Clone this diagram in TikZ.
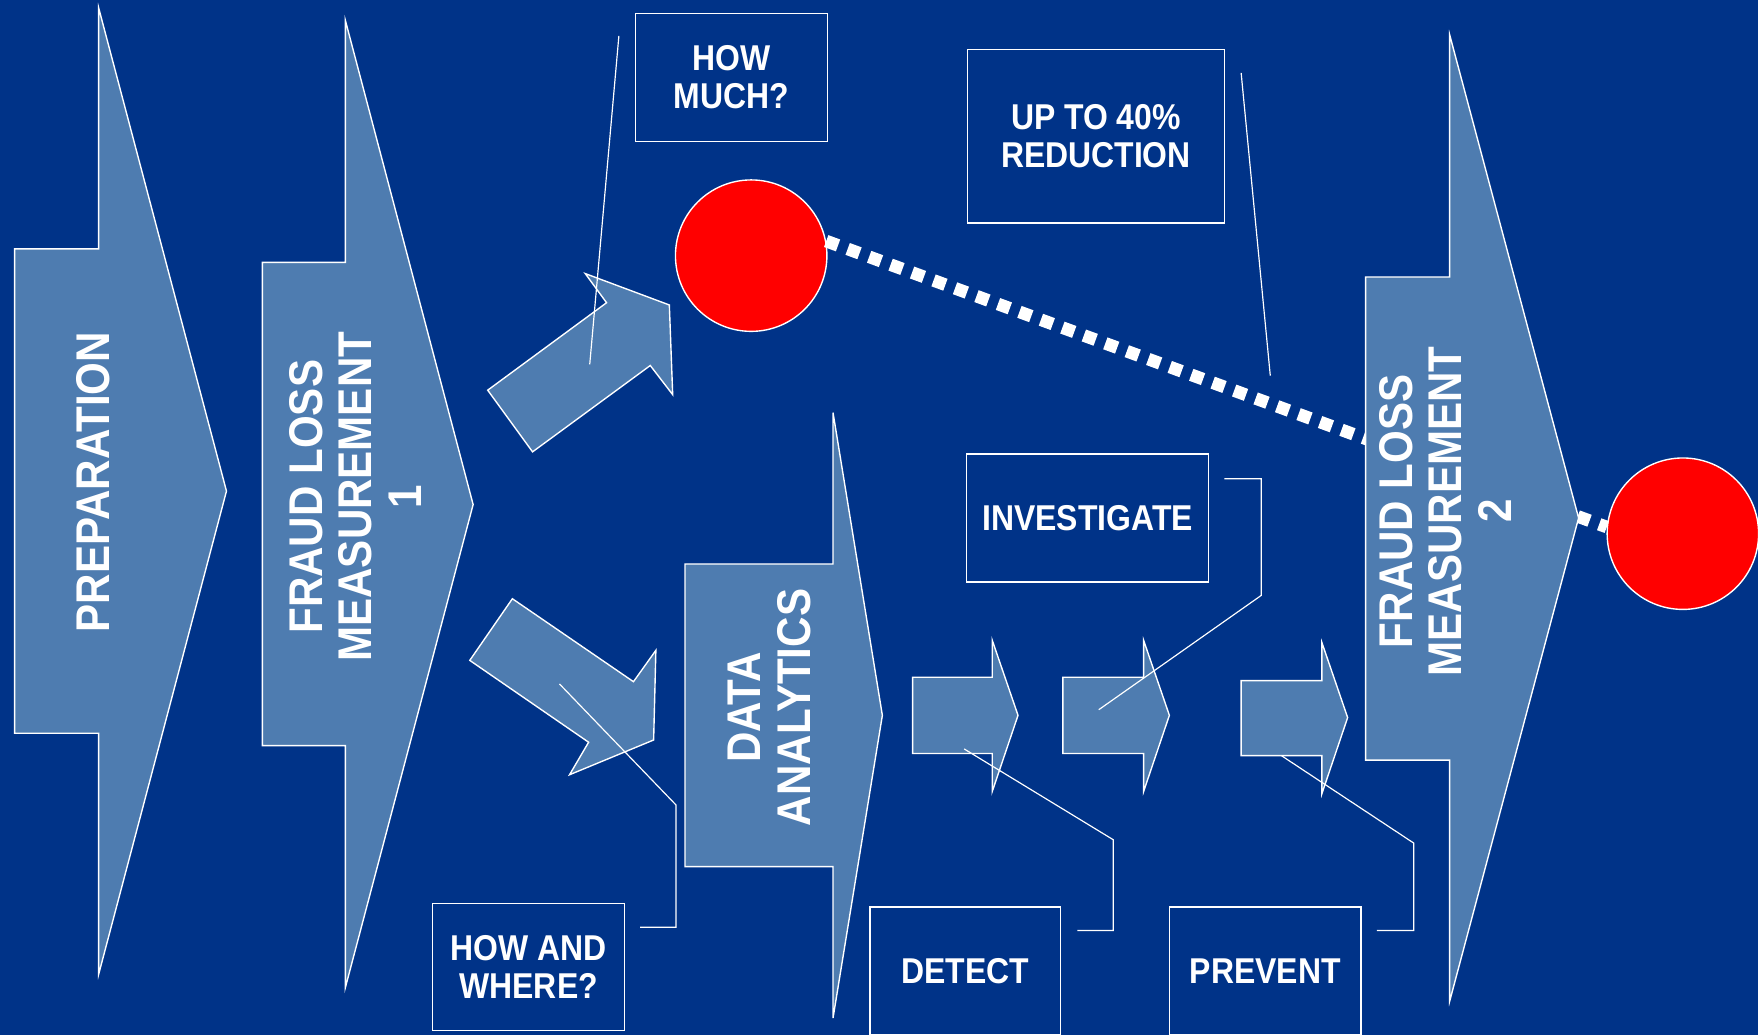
\documentclass[tikz,border=0pt]{standalone}
\usepackage{fontspec}
\setmainfont[FakeStretch=0.89]{Liberation Sans}
\usetikzlibrary{shapes,arrows,positioning,calc}
\usepackage{xcolor}
\definecolor{bgblue}{RGB}{0,51,136}
\definecolor{arrowblue}{RGB}{78,124,176}

\begin{document}
\begin{tikzpicture}[
    x=0.01cm, y=-0.01cm,
    bigarrow/.style={fill=arrowblue, draw=white, line width=0.35pt},
    biglabel/.style={text=white, rotate=90, align=center, font=\fontsize{12}{12.6}\selectfont\bfseries},
    box/.style={rectangle, draw=white, line width=0.35pt, fill=bgblue, text=white, align=center, inner sep=0pt, font=\fontsize{9.1}{9.7}\selectfont\bfseries},
    callout/.style={draw=white, line width=0.3pt},
    lossdot/.style={circle, fill=red, draw=white, line width=0.35pt, minimum size=1.35cm, inner sep=0pt},
    dotline/.style={draw=white, line width=3.2pt, dash pattern=on 3.2pt off 2.6pt}
]
    \fill[bgblue] (0,0) rectangle (1568,923);
    \useasboundingbox (0,0) rectangle (1568,923);

    % stage arrows on the left
    \draw[bigarrow] (88,7) -- (88,222) -- (13,222) -- (13,654) -- (88,654) -- (88,869) -- (202,438) -- cycle;
    \node[biglabel] (prep) at (83,430) {PREPARATION};

    \draw[bigarrow] (308,18) -- (308,234) -- (234,234) -- (234,665) -- (308,665) -- (308,881) -- (422,450) -- cycle;
    \node[biglabel] (flm1) at (317,443) {FRAUD LOSS\\MEASUREMENT\\1};

    % split arrows
    \draw[bigarrow] (435,348) -- (541,270) -- (522,244) -- (597,272) -- (600,352) -- (580,326) -- (475,403) -- cycle;
    \draw[bigarrow] (457,534) -- (565,608) -- (585,580) -- (583,660) -- (508,691) -- (525,662) -- (419,589) -- cycle;

    \coordinate (hm-a) at (552,32);
    \coordinate (hm-b) at (526,325);
    \draw[callout] (hm-a) -- (hm-b);

    % loss levels
    \node[lossdot] (loss1) at (670,228) {};
    \node[lossdot] (loss2) at (1501,476) {};
    \draw[dotline] (loss1.11) -- (loss2.175);

    \draw[bigarrow] (1293,31) -- (1293,247) -- (1218,247) -- (1218,678) -- (1293,678) -- (1293,893) -- (1408,462) -- cycle;
    \node[biglabel] (flm2) at (1289,456) {FRAUD LOSS\\MEASUREMENT\\2};

    \draw[bigarrow] (743,368) -- (743,503) -- (611,503) -- (611,773) -- (743,773) -- (743,908) -- (787,638) -- cycle;
    \node[biglabel] (data) at (686,631) {DATA\\ANALYTICS};

    % small step arrows
    \draw[bigarrow] (814,604) -- (885,604) -- (885,571) -- (908,638) -- (885,706) -- (885,672) -- (814,672) -- cycle;
    \draw[bigarrow] (948,604) -- (1020,604) -- (1020,571) -- (1043,638) -- (1020,706) -- (1020,672) -- (948,672) -- cycle;
    \draw[bigarrow] (1107,607) -- (1179,607) -- (1179,573) -- (1202,640) -- (1179,708) -- (1179,674) -- (1107,674) -- cycle;

    % boxes
    \node[box, minimum width=1.71cm, minimum height=1.14cm] (howmuch) at (652.5,69) {HOW\\MUCH?};
    \node[box, minimum width=2.29cm, minimum height=1.55cm] (reduction) at (977.5,121.5) {UP TO 40\%\\REDUCTION};
    \node[box, minimum width=2.16cm, minimum height=1.14cm] (investigate) at (970,462) {INVESTIGATE};
    \node[box, minimum width=1.71cm, minimum height=1.13cm] (howwhere) at (471.5,862.5) {HOW AND\\WHERE?};
    \node[box, minimum width=1.70cm, minimum height=1.14cm] (detect) at (861,866) {DETECT};
    \node[box, minimum width=1.71cm, minimum height=1.14cm] (prevent) at (1128.5,866) {PREVENT};

    % callout lines
    \coordinate (rd-a) at (1107,65);
    \coordinate (rd-b) at (1133,335);
    \draw[callout] (rd-a) -- (rd-b);

    \coordinate (iv-a) at (1092,427);
    \coordinate (iv-b) at (980,633);
    \draw[callout] (iv-a) -- (1125,427) -- (1125,531) -- (iv-b);

    \coordinate (hw-a) at (571,827);
    \coordinate (hw-b) at (499,610);
    \draw[callout] (hw-a) -- (603,827) -- (603,718) -- (hw-b);

    \coordinate (dt-a) at (961,830);
    \coordinate (dt-b) at (860,668);
    \draw[callout] (dt-a) -- (993,830) -- (993,749) -- (dt-b);

    \coordinate (pv-a) at (1228,830);
    \coordinate (pv-b) at (1143,674);
    \draw[callout] (pv-a) -- (1261,830) -- (1261,752) -- (pv-b);
\end{tikzpicture}
\end{document}
